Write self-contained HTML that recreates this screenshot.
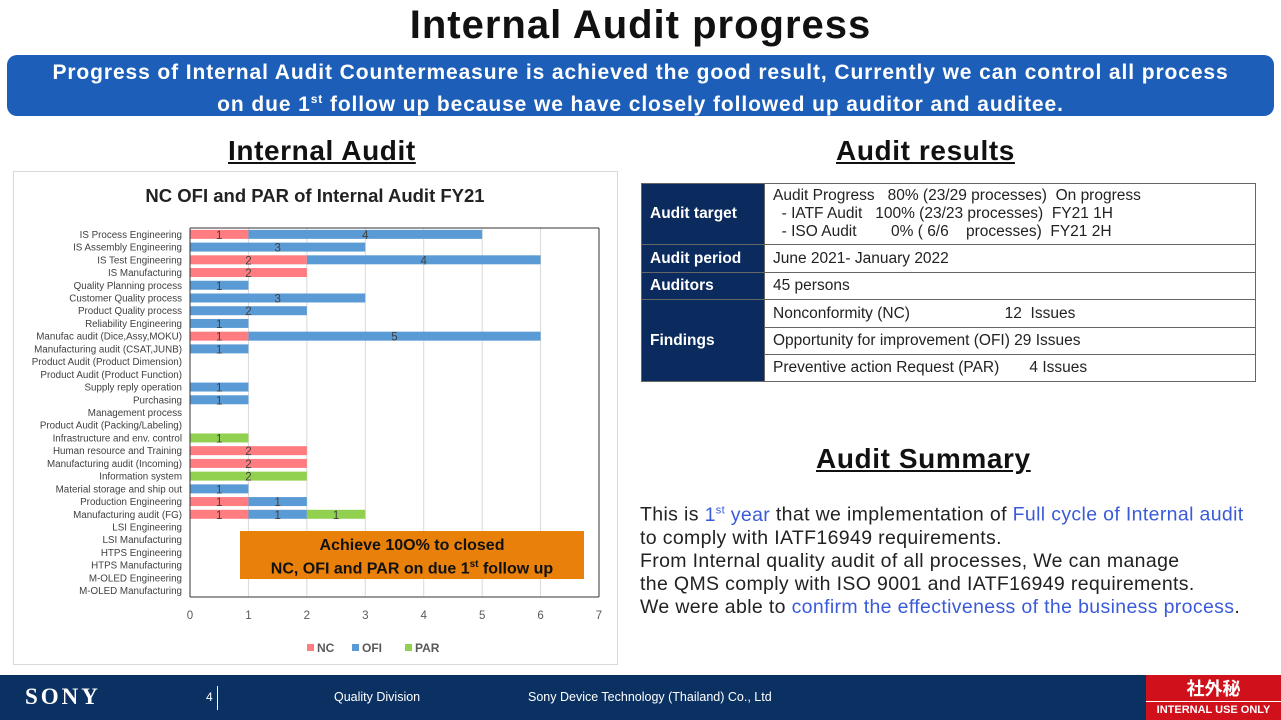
<!DOCTYPE html>
<html><head><meta charset="utf-8">
<style>
body{margin:0;width:1281px;height:720px;position:relative;background:#fff;font-family:"Liberation Sans",sans-serif;overflow:hidden}
.abs{position:absolute}
h1{position:absolute;left:0;width:1281px;top:3px;margin:0;text-align:center;font-size:40px;letter-spacing:1px;font-weight:bold;color:#111}
.banner{left:7px;top:55px;width:1267px;height:61px;background:#1d5fb8;border-radius:10px;color:#fff;font-weight:bold;font-size:21px;letter-spacing:0.9px;text-align:center;line-height:26px;padding-top:5px;box-sizing:border-box}
.sec{font-size:28px;letter-spacing:0.6px;font-weight:bold;text-decoration:underline;color:#111}
table{border-collapse:collapse;font-size:15.5px}
td{border:1px solid #666;padding:0 8px;color:#222}
td.h{background:#0b2a5e;color:#fff;font-weight:bold;width:106px}
.sum{font-size:19.5px;letter-spacing:0.35px;line-height:23px;color:#222}
.b{color:#3a5bd9}
</style></head><body>
<h1>Internal Audit progress</h1>
<div class="abs banner">Progress of Internal Audit Countermeasure is achieved the good result, Currently we can control all process<br>on due 1<sup style="font-size:12px">st</sup> follow up because we have closely followed up auditor and auditee.</div>
<div class="abs sec" style="left:228px;top:135px">Internal Audit</div>
<div class="abs sec" style="left:836px;top:135px">Audit results</div>

<svg class="abs" style="left:0;top:0" width="640" height="670">
<rect x="13.5" y="171.5" width="604" height="493" fill="#fff" stroke="#d9d9d9"/>
<text x="315" y="202" text-anchor="middle" font-size="18.5" font-weight="bold" fill="#222">NC OFI and PAR of Internal Audit FY21</text>
<g id="plot"></g>
</svg>
<script>
const categories=["IS Process Engineering","IS Assembly Engineering","IS Test Engineering","IS Manufacturing","Quality Planning process","Customer Quality process","Product Quality process","Reliability Engineering ","Manufac audit (Dice,Assy,MOKU)","Manufacturing audit (CSAT,JUNB) ","Product Audit (Product Dimension)","Product Audit (Product Function)","Supply reply operation ","Purchasing ","Management process","Product Audit (Packing/Labeling)","Infrastructure and env. control","Human resource and Training","Manufacturing audit  (Incoming)","Information system","Material storage and ship out","Production Engineering","Manufacturing audit (FG) ","LSI Engineering","LSI Manufacturing","HTPS Engineering","HTPS Manufacturing","M-OLED Engineering","M-OLED Manufacturing"];
const ncValues=[1,0,2,2,0,0,0,0,1,0,0,0,0,0,0,0,0,2,2,0,0,1,1,0,0,0,0,0,0];
const ofiValues=[4,3,4,0,1,3,2,1,5,1,0,0,1,1,0,0,0,0,0,0,1,1,1,0,0,0,0,0,0];
const parValues=[0,0,0,0,0,0,0,0,0,0,0,0,0,0,0,0,1,0,0,2,0,0,1,0,0,0,0,0,0];
const xTicks=[0,1,2,3,4,5,6,7];
const seriesNames=["NC","OFI","PAR"];
const colors=["#ff7c80","#5b9bd5","#92d050"];
const ns="http://www.w3.org/2000/svg";
const g=document.getElementById('plot');
const X0=190,X1=599,XMAX=7,TOP=228,BOT=597;
const xs=v=>X0+(X1-X0)*v/XMAX;
const rowH=(BOT-TOP)/categories.length;
const ys=i=>TOP+rowH*i;
function mk(t,a){const e=document.createElementNS(ns,t);for(const k in a)e.setAttribute(k,a[k]);g.appendChild(e);return e;}
xTicks.forEach(t=>{
 const l=mk('line',{x1:xs(t),x2:xs(t),y1:TOP,y2:BOT,stroke:t==0?'#bfbfbf':'#d9d9d9'});
 
 
 const tx=mk('text',{x:xs(t),y:BOT+22,'text-anchor':'middle','font-size':11.5,fill:'#595959'});tx.textContent=t;
 
 
});
const sers=[ncValues,ofiValues,parValues];
categories.forEach((c,i)=>{
 const cy=ys(i)+rowH/2;
 const lb=mk('text',{x:X0-8,y:cy+3.5,'text-anchor':'end','font-size':9.8,fill:'#404040'});lb.textContent=c;
 
 
 let acc=0;
 sers.forEach((s,k)=>{
  const v=s[i];if(!v)return;
  const r=mk('rect',{x:xs(acc),y:cy-4.5,width:xs(acc+v)-xs(acc),height:9,fill:colors[k]});
  
  
  const t=mk('text',{x:xs(acc+v/2),y:cy+4.5,'text-anchor':'middle','font-size':11.5,fill:'#404040'});t.textContent=v;
  
  
  acc+=v;
 });
});
mk('line',{x1:X0,x2:X0,y1:TOP,y2:BOT,stroke:'#333'});
mk('line',{x1:X0,x2:X1,y1:BOT,y2:BOT,stroke:'#333'});
mk('line',{x1:X1,x2:X1,y1:TOP,y2:BOT,stroke:'#333'});
mk('line',{x1:X0,x2:X1,y1:TOP,y2:TOP,stroke:'#333'});
const lx=[307,352,405];
seriesNames.forEach((n,k)=>{
 const r=mk('rect',{x:lx[k],y:644,width:7,height:7,fill:colors[k]});
 
 
 const t=mk('text',{x:lx[k]+10,y:652,'font-size':12,'font-weight':'bold',fill:'#595959'});t.textContent=n;
 
 
});
</script>
<div class="abs" style="left:240px;top:531px;width:344px;height:48px;background:#e8800a;text-align:center;font-weight:bold;font-size:16px;line-height:19px;padding-top:5px;box-sizing:border-box;color:#111">Achieve 10O% to closed<br>NC, OFI and PAR on due 1<sup style="font-size:10px">st</sup> follow up</div>

<table class="abs" style="left:641px;top:183px;width:615px">
<tr style="height:61px"><td class="h">Audit target</td><td style="line-height:18px;white-space:pre">Audit Progress   80% (23/29 processes)  On progress
  - IATF Audit   100% (23/23 processes)  FY21 1H
  - ISO Audit        0% ( 6/6    processes)  FY21 2H</td></tr>
<tr style="height:28px"><td class="h">Audit period</td><td>June 2021- January 2022</td></tr>
<tr style="height:27px"><td class="h">Auditors</td><td>45 persons</td></tr>
<tr style="height:28px"><td class="h" rowspan="3">Findings</td><td style="white-space:pre">Nonconformity (NC)                      12  Issues</td></tr>
<tr style="height:27px"><td>Opportunity for improvement (OFI) 29 Issues</td></tr>
<tr style="height:27px"><td style="white-space:pre">Preventive action Request (PAR)       4 Issues</td></tr>
</table>

<div class="abs sec" style="left:816px;top:443px">Audit Summary</div>
<div class="abs sum" style="left:640px;top:499px;width:641px">This is <span class="b">1<sup style="font-size:11px">st</sup> year</span> that we implementation of <span class="b">Full cycle of Internal audit</span><br>to comply with IATF16949 requirements.<br>From Internal quality audit of all processes, We can manage<br>the QMS comply with ISO 9001 and IATF16949 requirements.<br>We were able to <span class="b">confirm the effectiveness of the business process</span>.</div>

<div class="abs" style="left:0;top:675px;width:1281px;height:45px;background:#0a3161"></div>
<div class="abs" style="left:25px;top:684px;color:#fff;font-family:'Liberation Serif',serif;font-weight:bold;font-size:23px;letter-spacing:3px">SONY</div>
<div class="abs" style="left:206px;top:690px;color:#fff;font-size:12px">4</div>
<div class="abs" style="left:217px;top:686px;width:1px;height:24px;background:#fff"></div>
<div class="abs" style="left:334px;top:690px;color:#fff;font-size:12.5px">Quality Division</div>
<div class="abs" style="left:528px;top:690px;color:#fff;font-size:12.5px">Sony Device Technology (Thailand) Co., Ltd</div>
<div class="abs" style="left:1146px;top:675px;width:135px;height:45px;background:#d0101b;color:#fff;text-align:center">
<div style="font-family:'Noto Sans CJK JP',sans-serif;font-weight:bold;font-size:18px;line-height:26px">社外秘</div>
<div style="border-top:1px solid #fff;font-weight:bold;font-size:11px;line-height:17px">INTERNAL USE ONLY</div></div>
</body></html>
